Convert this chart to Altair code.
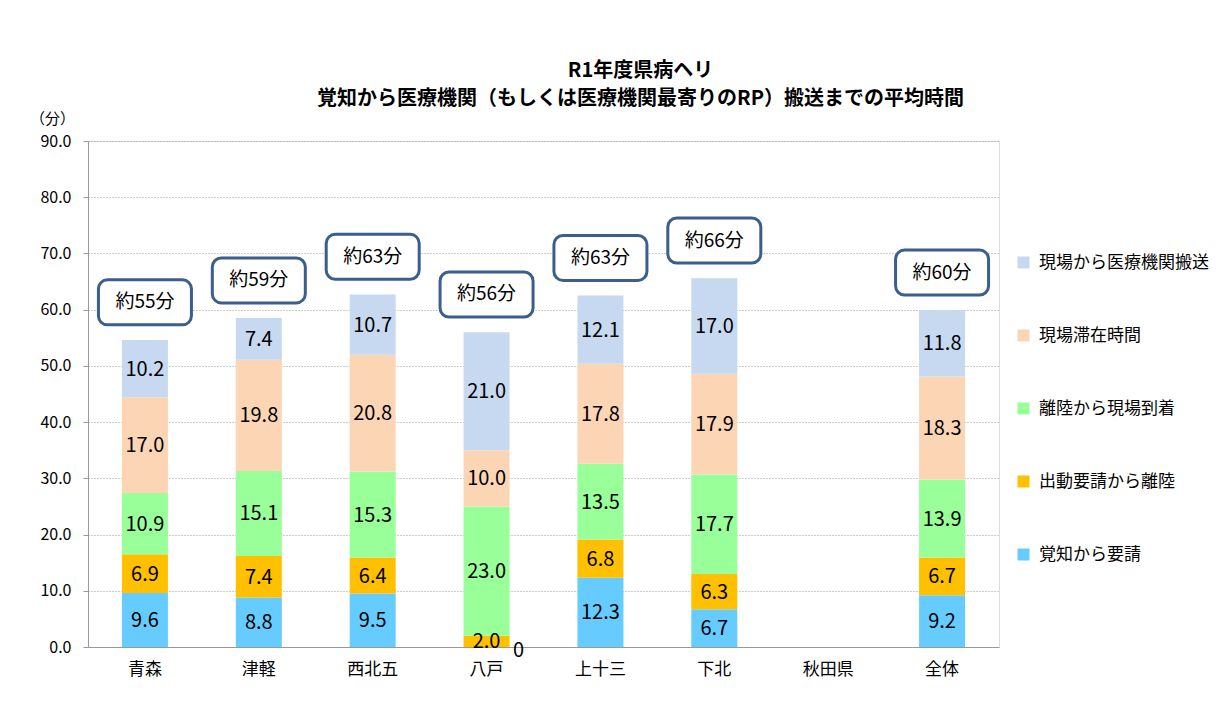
import altair as alt
import pandas as pd

categories = ["青森", "津軽", "西北五", "八戸", "上十三", "下北", "秋田県", "全体"]
series = ["覚知から要請", "出動要請から離陸", "離陸から現場到着", "現場滞在時間", "現場から医療機関搬送"]
# values per series, for the categories that have data (秋田県 has none)
data_cats = ["青森", "津軽", "西北五", "八戸", "上十三", "下北", "全体"]
v_kakuchi = [9.6, 8.8, 9.5, 0.0, 12.3, 6.7, 9.2]
v_shutsudo = [6.9, 7.4, 6.4, 2.0, 6.8, 6.3, 6.7]
v_ririku = [10.9, 15.1, 15.3, 23.0, 13.5, 17.7, 13.9]
v_taizai = [17.0, 19.8, 20.8, 10.0, 17.8, 17.9, 18.3]
v_hanso = [10.2, 7.4, 10.7, 21.0, 12.1, 17.0, 11.8]
callouts = ["約55分", "約59分", "約63分", "約56分", "約63分", "約66分", "約60分"]
colors = ["#C6D9F1", "#FCD5B5", "#99FF99", "#FFC000", "#66CCFF"]

FONT = "Noto Sans CJK JP"

rows = []
for i, c in enumerate(data_cats):
    for k, (s, vals) in enumerate(zip(series, [v_kakuchi, v_shutsudo, v_ririku, v_taizai, v_hanso])):
        rows.append({"cat": c, "series": s, "ord": k, "value": vals[i]})
df = pd.DataFrame(rows)

tot = []
for i, c in enumerate(data_cats):
    t = v_kakuchi[i] + v_shutsudo[i] + v_ririku[i] + v_taizai[i] + v_hanso[i]
    tot.append({"cat": c, "total": t, "label": callouts[i]})
dft = pd.DataFrame(tot)

legend_order = list(reversed(series))

xenc = alt.X("cat:N", scale=alt.Scale(domain=categories, paddingInner=0.6, paddingOuter=0.3),
             axis=alt.Axis(title=None, labelAngle=0, ticks=False, labelPadding=14,
                           labelFontSize=17, labelColor="#000", labelFont=FONT,
                           domainColor="#999", grid=False))
yscale = alt.Scale(domain=[0, 90], nice=False)

base = alt.Chart(df)

bars = base.mark_bar(size=46).encode(
    x=xenc,
    y=alt.Y("sum(value):Q", stack="zero", scale=yscale,
            axis=alt.Axis(title="（分）", titleAngle=0, titleAlign="center", titleBaseline="bottom",
                          titleX=-36, titleY=-15, titleFontSize=15, titleFontWeight="normal",
                          titleFont=FONT, titleColor="#000",
                          values=[0, 10, 20, 30, 40, 50, 60, 70, 80, 90], format=".1f",
                          labelFontSize=16, labelColor="#000", labelFont=FONT, labelPadding=12,
                          tickSize=5, tickColor="#999", domainColor="#999",
                          gridColor="#999", gridDash=[1, 2], gridWidth=1)),
    color=alt.Color("series:N", scale=alt.Scale(domain=legend_order, range=colors),
                    legend=alt.Legend(title=None, orient="none", legendX=927, legendY=113,
                                      symbolType="square", symbolSize=144, symbolStrokeWidth=0,
                                      labelFontSize=17, labelFont=FONT, labelColor="#000",
                                      labelLimit=300, rowPadding=55, labelOffset=7)),
    order=alt.Order("ord:Q", sort="ascending"),
)

stacked = base.transform_stack(
    stack="value", as_=["y0", "y1"], groupby=["cat"], sort=[alt.SortField("ord", order="ascending")]
).transform_calculate(mid="(datum.y0 + datum.y1) / 2")

labels = stacked.transform_filter("datum.value > 0").mark_text(
    fontSize=20, font=FONT, color="#000", baseline="middle", dy=1
).encode(
    x=alt.X("cat:N", scale=alt.Scale(domain=categories)),
    y=alt.Y("mid:Q", scale=yscale),
    text=alt.Text("value:Q", format=".1f"),
)

zero_labels = stacked.transform_filter("datum.value == 0").mark_text(
    fontSize=20, font=FONT, color="#000", baseline="middle", dx=32, dy=4
).encode(
    x=alt.X("cat:N", scale=alt.Scale(domain=categories)),
    y=alt.Y("mid:Q", scale=yscale),
    text=alt.Text("value:Q", format="d"),
)

tbase = alt.Chart(dft).transform_calculate(
    c="datum.total + 6.7", lo="datum.total + 2.7", hi="datum.total + 10.7"
)
boxes = tbase.mark_bar(size=93, fill="#FFFFFF", stroke="#3B5E8C", strokeWidth=3, cornerRadius=9).encode(
    x=alt.X("cat:N", scale=alt.Scale(domain=categories)),
    y=alt.Y("lo:Q", scale=yscale),
    y2="hi:Q",
)
box_text = tbase.mark_text(fontSize=19, font=FONT, color="#000", baseline="middle").encode(
    x=alt.X("cat:N", scale=alt.Scale(domain=categories)),
    y=alt.Y("c:Q", scale=yscale),
    text="label:N",
)

chart = alt.layer(bars, labels, zero_labels, boxes, box_text).properties(
    width=911, height=506,
    autosize=alt.AutoSizeParams(type="none"),
    padding={"left": 80, "top": 133, "right": 219, "bottom": 47},
    title=alt.TitleParams(
        text=["R1年度県病ヘリ", "覚知から医療機関（もしくは医療機関最寄りのRP）搬送までの平均時間"],
        fontSize=20, fontWeight="bold", font=FONT, color="#000",
        anchor="middle", dx=97, offset=2, lineHeight=28,
    ),
).configure_view(stroke=None).configure(background="#FFFFFF")

chart.save("out.html", embed_options={"renderer": "svg", "actions": False})
